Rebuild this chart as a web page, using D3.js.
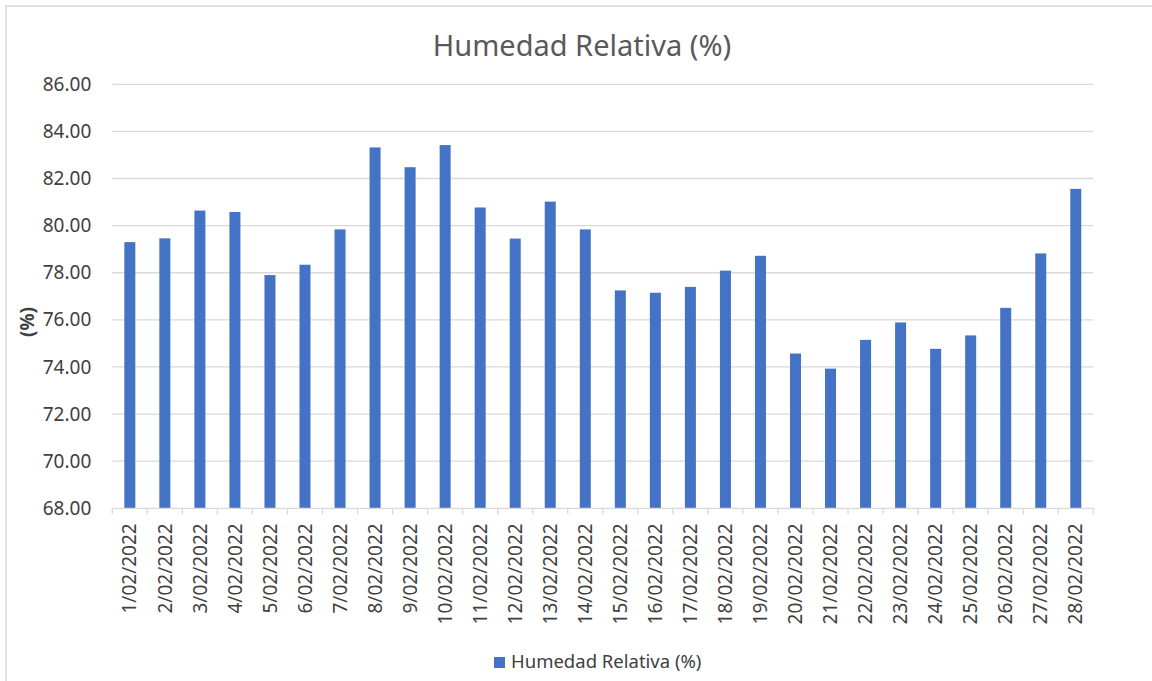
<!DOCTYPE html>
<html>
<head>
<meta charset="utf-8">
<script src="https://cdn.jsdelivr.net/npm/d3@7"></script>
<style>
  body { margin: 0; background: #fff; }
  svg { display: block; font-family: "Noto Sans", "Open Sans", sans-serif; }
</style>
</head>
<body>
<div id="chart"></div>
<script>
// data
const days = [
  "1/02/2022", "2/02/2022", "3/02/2022", "4/02/2022", "5/02/2022", "6/02/2022", "7/02/2022",
  "8/02/2022", "9/02/2022", "10/02/2022", "11/02/2022", "12/02/2022", "13/02/2022", "14/02/2022",
  "15/02/2022", "16/02/2022", "17/02/2022", "18/02/2022", "19/02/2022", "20/02/2022", "21/02/2022",
  "22/02/2022", "23/02/2022", "24/02/2022", "25/02/2022", "26/02/2022", "27/02/2022", "28/02/2022"
];
const humedad = [
  79.30, 79.46, 80.64, 80.58, 77.90, 78.34, 79.84,
  83.32, 82.48, 83.42, 80.77, 79.45, 81.02, 79.84,
  77.25, 77.15, 77.40, 78.09, 78.72, 74.57, 73.93,
  75.15, 75.89, 74.77, 75.34, 76.51, 78.82, 81.56
];
const yTicks = [68, 70, 72, 74, 76, 78, 80, 82, 84, 86];
const seriesName = "Humedad Relativa (%)";
const yTitle = "(%)";

const W = 1152, H = 681;
const margin = { top: 84.3, right: 58.7, bottom: 172.7, left: 112.3 };
const width = W - margin.left - margin.right;
const height = H - margin.top - margin.bottom;

const barColor = "#4472c4";
const gridColor = "#d9d9d9";
const textColor = "#404040";

const svg = d3.select("#chart")
  .append("svg")
    .attr("width", W)
    .attr("height", H);

// outer chart border (cut off at right/bottom in the reference)
svg.append("rect")
  .attr("x", 6).attr("y", 6)
  .attr("width", W + 20).attr("height", H + 20)
  .attr("fill", "none")
  .attr("stroke", gridColor)
  .attr("stroke-width", 1.5);

svg.append("text")
  .attr("x", 582)
  .attr("y", 56)
  .attr("text-anchor", "middle")
  .attr("fill", "#595959")
  .style("font-size", "29px")
  .text(seriesName);

const g = svg.append("g")
  .attr("transform", `translate(${margin.left}, ${margin.top})`);

const xScale = d3.scaleBand().domain(days).range([0, width]).paddingInner(0.686).paddingOuter(0.343);
const xTickScale = d3.scaleBand().domain(days).range([0, width]);
const yScale = d3.scaleLinear().domain([68, 86]).range([height, 0]);

// gridlines
g.append("g")
  .attr("class", "grid")
  .selectAll("line")
  .data(yTicks.filter(t => t !== 68))
  .enter()
  .append("line")
    .attr("x1", 0).attr("x2", width)
    .attr("y1", d => yScale(d)).attr("y2", d => yScale(d))
    .attr("stroke", gridColor)
    .attr("stroke-width", 1.3);

// y axis labels
const yAxis = d3.axisLeft(yScale)
  .tickValues(yTicks)
  .tickFormat(d3.format(".2f"))
  .tickSize(0)
  .tickPadding(21);

g.append("g")
  .attr("class", "y axis")
  .call(yAxis)
  .call(s => s.select(".domain").remove())
  .call(s => s.selectAll("text")
    .attr("fill", textColor)
    .style("font-family", "Noto Sans")
    .style("font-size", "19px"));

// bars
g.selectAll(".bar")
  .data(humedad)
  .enter()
  .append("rect")
    .attr("class", "bar")
    .attr("x", (d, i) => xScale(days[i]))
    .attr("width", xScale.bandwidth())
    .attr("y", d => yScale(d))
    .attr("height", d => height - yScale(d))
    .attr("fill", barColor);

// x axis with category separators
const xAxisG = g.append("g")
  .attr("class", "x axis")
  .attr("transform", `translate(0, ${height})`);

xAxisG.append("line")
  .attr("x1", 0).attr("x2", width)
  .attr("stroke", gridColor)
  .attr("stroke-width", 1.3);

xAxisG.selectAll(".sep")
  .data(days.concat(["end"]))
  .enter()
  .append("line")
    .attr("class", "sep")
    .attr("x1", (d, i) => i * xTickScale.step())
    .attr("x2", (d, i) => i * xTickScale.step())
    .attr("y1", 0).attr("y2", 6)
    .attr("stroke", gridColor)
    .attr("stroke-width", 1.3);

xAxisG.selectAll(".lbl")
  .data(days)
  .enter()
  .append("text")
    .attr("class", "lbl")
    .attr("transform", d => `translate(${xTickScale(d) + xTickScale.bandwidth() / 2}, 15) rotate(-90)`)
    .attr("text-anchor", "end")
    .attr("dy", "0.35em")
    .attr("fill", textColor)
    .style("font-size", "19px")
    .text(d => d);

// y axis title
svg.append("text")
  .attr("transform", "translate(27, 322) rotate(-90)")
  .attr("text-anchor", "middle")
  .attr("dy", "0.35em")
  .attr("fill", textColor)
  .style("font-size", "19px")
  .style("font-weight", "bold")
  .text(yTitle);

// legend
const legend = svg.append("g").attr("transform", "translate(494, 657)");
legend.append("rect")
  .attr("width", 11).attr("height", 11)
  .attr("fill", barColor);
legend.append("text")
  .attr("x", 17)
  .attr("y", 11)
  .attr("fill", textColor)
  .style("font-size", "18.5px")
  .text(seriesName);
</script>
</body>
</html>
